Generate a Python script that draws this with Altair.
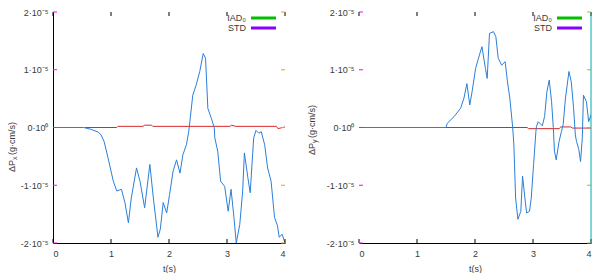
import altair as alt
import pandas as pd

# ---- data (values in units of 1e-5 g·cm/s) ----
SCALE = 1e-5

px_std_t = [0, 0.5, 0.53, 0.65, 0.78, 0.83, 0.88, 0.95, 1.04, 1.1, 1.18, 1.24, 1.3, 1.35, 1.44, 1.5,
            1.58, 1.67, 1.73, 1.81, 1.85, 1.9, 1.96, 2.01, 2.07, 2.13, 2.19, 2.24, 2.3, 2.34, 2.36,
            2.41, 2.47, 2.53, 2.59, 2.63, 2.67, 2.73, 2.78, 2.79, 2.84, 2.89, 2.96, 3.02, 3.07, 3.12,
            3.16, 3.22, 3.27, 3.3, 3.36, 3.4, 3.46, 3.5, 3.55, 3.59, 3.65, 3.7, 3.76, 3.82, 3.87,
            3.9, 3.95, 4.0]
px_std_v = [0, 0, 0, -0.03, -0.08, -0.13, -0.24, -0.53, -0.93, -1.1, -1.07, -1.3, -1.65, -1.22, -0.7, -0.93,
            -1.39, -0.64, -1.22, -1.9, -1.76, -1.3, -1.48, -1.16, -0.76, -0.56, -0.79, -0.47, -0.30, -0.07, 0.1,
            0.56, 0.74, 0.97, 1.28, 1.2, 0.33, 0.16, 0.0, -0.18, -0.41, -0.93, -1.02, -1.45, -1.07, -1.56,
            -2.0, -1.68, -1.1, -0.44, -0.87, -1.13, -0.18, -0.05, -0.1, -0.07, -0.3, -0.7, -0.93, -1.56, -1.7,
            -1.9, -1.85, -2.0]
px_iad_t = [0.55, 1.1, 1.12, 1.55, 1.58, 1.7, 1.72, 3.05, 3.08, 3.15, 3.85, 3.88, 4.0]
px_iad_v = [0, 0, 0.02, 0.02, 0.04, 0.04, 0.02, 0.02, 0.04, 0.02, 0.02, -0.02, 0.01]

py_std_t = [0, 1.5, 1.52, 1.64, 1.75, 1.81, 1.86, 1.91, 1.95, 2.01, 2.06, 2.12, 2.18, 2.21, 2.25, 2.32,
            2.36, 2.4, 2.46, 2.52, 2.56, 2.6, 2.65, 2.67, 2.7, 2.74, 2.79, 2.82, 2.86, 2.89, 2.94, 2.97,
            3.01, 3.05, 3.06, 3.09, 3.16, 3.2, 3.24, 3.28, 3.32, 3.35, 3.37, 3.4, 3.45, 3.49, 3.52, 3.56,
            3.62, 3.66, 3.7, 3.73, 3.75, 3.79, 3.82, 3.85, 3.87, 3.92, 3.96, 4.0]
py_std_v = [0, 0, 0.07, 0.19, 0.33, 0.51, 0.76, 0.39, 0.62, 1.02, 1.2, 1.4, 1.02, 0.85, 1.63, 1.66,
            1.57, 1.2, 1.08, 1.14, 0.79, 0.51, 0.0, -0.3, -1.22, -1.59, -1.45, -0.84, -1.22, -1.48, -1.45, -1.22,
            -0.64, -0.07, 0.02, 0.1, 0.03, 0.19, 0.62, 0.82, 0.45, 0.0, -0.41, -0.56, -0.24, -0.07, 0.05, 0.51,
            0.97, 0.79, 0.33, -0.13, -0.24, -0.38, -0.59, -0.18, 0.56, 0.45, 0.1, 0.22]
py_iad_t = [1.5, 2.9, 2.92, 3.45, 3.48, 3.65, 3.68, 4.0]
py_iad_v = [0, 0, -0.02, -0.02, 0.01, 0.01, -0.01, -0.01]

x_ticks = [0, 1, 2, 3, 4]
y_ticks = [-2, -1, 0, 1, 2]
series = ["IAD₀", "STD"]
colors = ["#d42a2a", "#2a7fd8"]

W, H = 232, 231
FONT = "Liberation Sans"
TXT = "#3a3a3a"


def one():
    return alt.Data(values=[{"a": 1}])


def panel(std_t, std_v, iad_t, iad_v, sub, title_x, title_y, left_domain, right_border):
    df_std = pd.DataFrame({"t": std_t, "v": [v * SCALE for v in std_v]})
    df_iad = pd.DataFrame({"t": iad_t, "v": [v * SCALE for v in iad_v]})
    xs = alt.Scale(domain=[0, 4], nice=False)
    ys = alt.Scale(domain=[-2 * SCALE, 2 * SCALE], nice=False)
    xaxis = alt.Axis(
        values=x_ticks, title="t(s)", ticks=False, grid=False, domain=True,
        domainColor="#000", domainWidth=1, labelPadding=6, titlePadding=6,
        labelFont=FONT, labelFontSize=9, labelColor=TXT,
        titleFont=FONT, titleFontSize=9, titleFontWeight="normal", titleColor=TXT)
    yaxis = alt.Axis(
        values=[v * SCALE for v in y_ticks], title=None, ticks=False, grid=False,
        domain=left_domain, domainColor="#000", domainWidth=1, labelPadding=5,
        labelFont=FONT, labelFontSize=9, labelColor=TXT,
        labelExpr="datum.value == 0 ? '0·10⁰' : toString(round(datum.value*1e5)) + '·10⁻⁵'")

    def line(df, col):
        return alt.Chart(df).mark_line(strokeWidth=1, clip=True, color=col).encode(
            x=alt.X("t:Q", scale=xs, axis=xaxis),
            y=alt.Y("v:Q", scale=ys, axis=yaxis),
        )

    xt = pd.DataFrame({"t": x_ticks})
    yt = pd.DataFrame({"v": [v * SCALE for v in y_ticks]})
    tick_style = dict(strokeWidth=1)
    ticks = [
        alt.Chart(xt).mark_rule(color="#000", **tick_style).encode(
            x=alt.X("t:Q", scale=xs, axis=xaxis), y=alt.value(H), y2=alt.value(H - 4)),
        alt.Chart(xt).mark_rule(color="#000", **tick_style).encode(
            x=alt.X("t:Q", scale=xs, axis=xaxis), y=alt.value(0), y2=alt.value(4)),
        alt.Chart(yt).mark_rule(color="#ff00ff", **tick_style).encode(
            y=alt.Y("v:Q", scale=ys, axis=yaxis), x=alt.value(0), x2=alt.value(4)),
        alt.Chart(yt).mark_rule(color="#ff9900", **tick_style).encode(
            y=alt.Y("v:Q", scale=ys, axis=yaxis), x=alt.value(W), x2=alt.value(W - 4)),
    ]

    extra = []
    if right_border:
        extra.append(alt.Chart(one()).mark_rule(color="#00aaaa", strokeWidth=1).encode(
            x=alt.value(W), y=alt.value(0), y2=alt.value(H)))

    # legend (label left of line sample, gnuplot style)
    leg = []
    legcols = ["#00c000", "#8800ff"]
    for i, (name, col) in enumerate(zip(series, legcols)):
        yy = 6 + 10 * i
        leg.append(alt.Chart(one()).mark_text(align="right", baseline="middle", font=FONT,
                                               fontSize=9, color=TXT).encode(
            x=alt.value(193), y=alt.value(yy), text=alt.value(name)))
        leg.append(alt.Chart(one()).mark_rule(color=col, strokeWidth=3).encode(
            x=alt.value(198), x2=alt.value(223), y=alt.value(yy)))

    # rotated y title with subscript
    tt = [
        alt.Chart(one()).mark_text(angle=270, align="right", baseline="middle", font=FONT,
                                   fontSize=9, color=TXT).encode(
            x=alt.value(title_x), y=alt.value(title_y), text=alt.value("ΔP")),
        alt.Chart(one()).mark_text(angle=270, align="left", baseline="middle", font=FONT,
                                   fontSize=7, color=TXT, dy=3).encode(
            x=alt.value(title_x), y=alt.value(title_y), text=alt.value(sub)),
        alt.Chart(one()).mark_text(angle=270, align="left", baseline="middle", font=FONT,
                                   fontSize=9, color=TXT, dx=5).encode(
            x=alt.value(title_x), y=alt.value(title_y), text=alt.value(" (g·cm/s)")),
    ]

    return alt.layer(line(df_iad, colors[0]), line(df_std, colors[1]), *ticks, *extra,
                     *leg, *tt).properties(width=W, height=H)


left = panel(px_std_t, px_std_v, px_iad_t, px_iad_v, "x", -41, 148, True, False)
right = panel(py_std_t, py_std_v, py_iad_t, py_iad_v, "y", -47, 131, False, True)

chart = alt.hconcat(left, right, spacing=22).properties(
    padding={"left": 0, "top": 0, "right": 0, "bottom": 0}
).configure_view(stroke=None)

chart.save("out.html", embed_options={"renderer": "svg", "actions": False})
